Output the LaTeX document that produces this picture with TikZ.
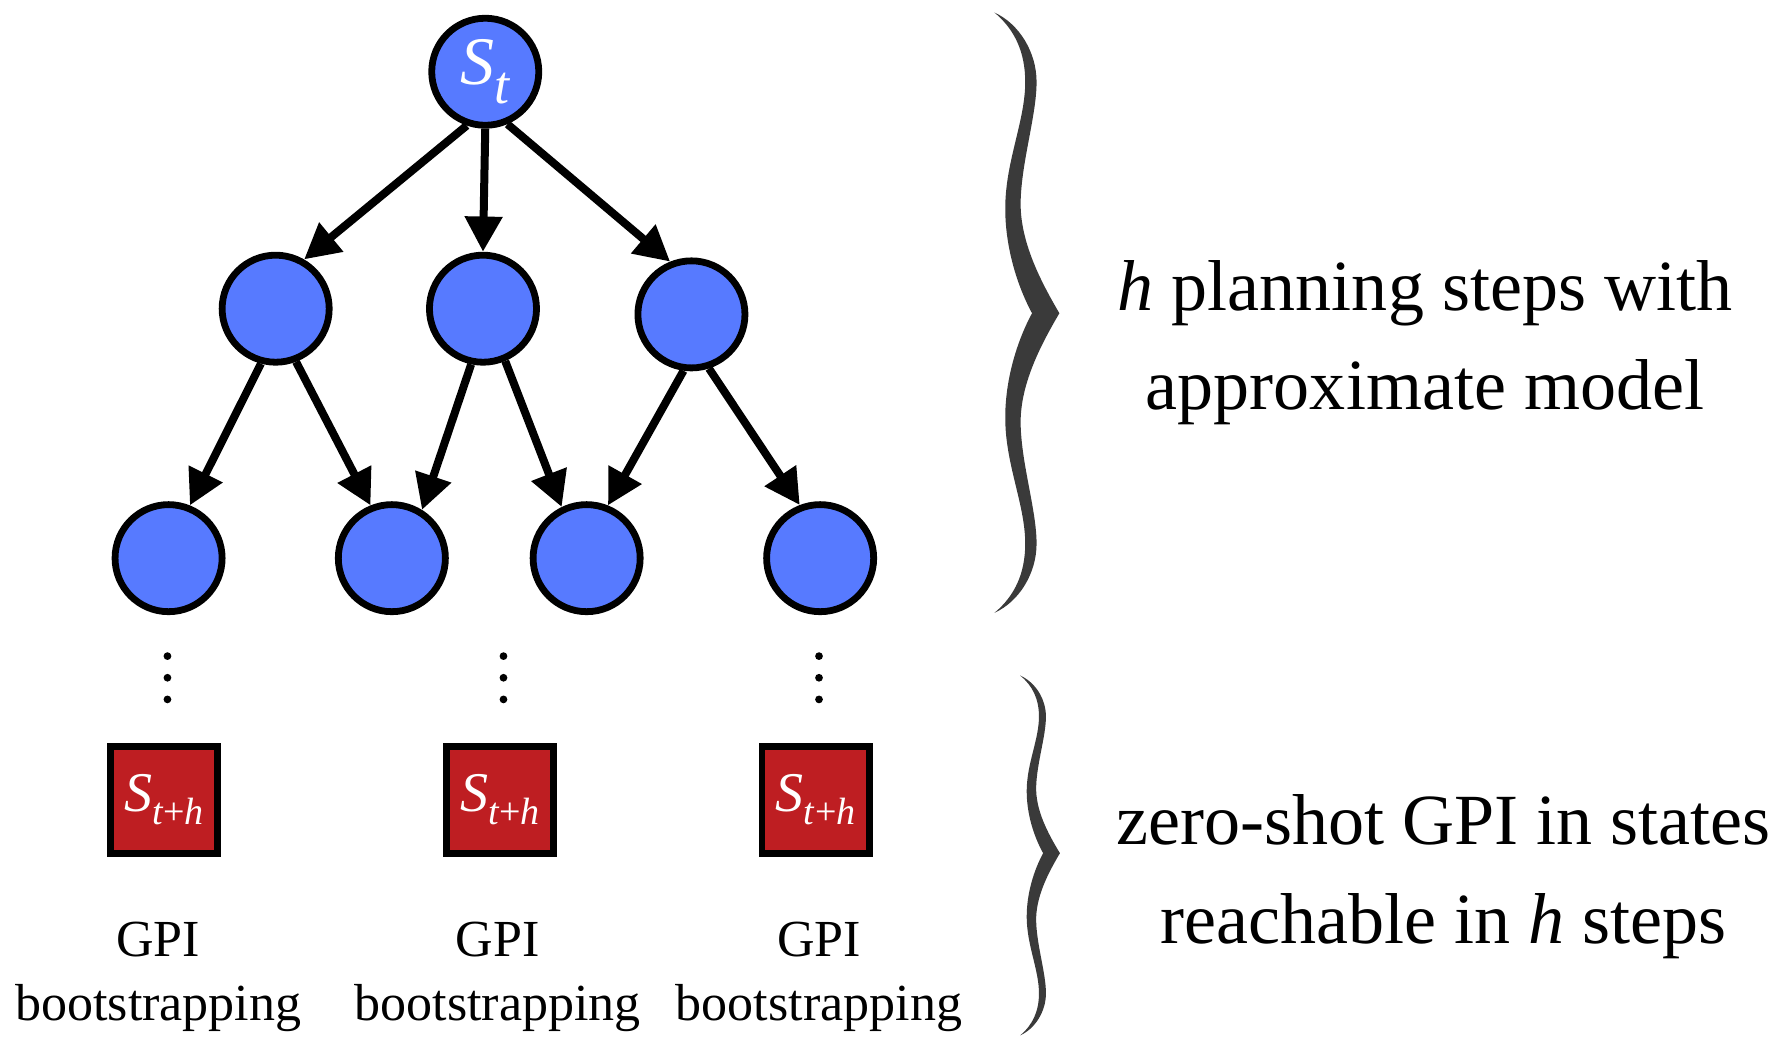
\documentclass[tikz,border=0pt]{standalone}
\usepackage{fontspec}
\setmainfont{Liberation Serif}
\usetikzlibrary{arrows.meta,positioning}
\definecolor{stblue}{RGB}{87,122,255}
\definecolor{lfred}{RGB}{190,30,34}
\definecolor{brgray}{RGB}{58,58,58}
\tikzset{sv/.style={draw,fill=stblue,circle,line width=3.4pt,minimum size=1.88cm,inner sep=0pt,text=white},lv/.style={draw,fill=lfred,rectangle,line width=3.4pt,minimum size=1.88cm,inner sep=0pt,text=white},arr/.style={line width=4pt,-{Triangle[length=17.6pt,width=18pt]}},txt/.style={align=center,inner sep=0pt}}
\newcommand{\stlab}{{\fontsize{34}{34}\selectfont\textit{S}}\raisebox{-9.6pt}{\fontsize{27}{27}\selectfont\textit{t}}}
\newcommand{\sthlab}{{\fontsize{28}{28}\selectfont\textit{S}}\raisebox{-6.3pt}{\fontsize{19}{19}\selectfont\textit{t}+\textit{h}}}
\newcommand{\halfbrace}{\fill[brgray] (0,0) .. controls (0.386,0.038) and (0.649,0.133) .. (0.649,0.231) .. controls (0.649,0.341) and (0.421,0.492) .. (0.404,0.625) .. controls (0.386,0.758) and (0.702,0.89) .. (1,1) -- (0.579,1) .. controls (0.351,0.909) and (0.158,0.777) .. (0.167,0.644) .. controls (0.175,0.492) and (0.474,0.36) .. (0.474,0.231) .. controls (0.474,0.133) and (0.316,0.057) .. (0,0) -- cycle;}

\begin{document}
\begin{tikzpicture}[x=0.02cm,y=-0.02cm]
	\useasboundingbox (0,0) rectangle (1560,915.6);
	% planning tree
	\node[sv] (s) at (426,63) {\stlab};
	\node[sv] (m1) at (242,271) {};
	\node[sv] (m2) at (424,271) {};
	\node[sv] (m3) at (607,276) {};
	\foreach \x[count=\i] in {148,344,515,720}
		\node[sv] (b\i) at (\x,490) {};
	\draw[arr] (s.251) -- (m1.60);
	\draw[arr] (s.south) -- (m2.north);
	\draw[arr] (s.293) -- (m3.112);
	\draw[arr] (m1.255) -- (b1.68);
	\draw[arr] (m1.291) -- (b2.112);
	\draw[arr] (m2.258) -- (b2.58);
	\draw[arr] (m2.293) -- (b3.116);
	\draw[arr] (m3.262) -- (b3.68);
	\draw[arr] (m3.288) -- (b4.111);
	% leaves after h steps
	\foreach \x[count=\i] in {145,440,717}{
		\foreach \y in {576,595,614}
			\fill (\x+2,\y) circle (3.4);
		\node[lv] (l\i) at (\x-1,702) {\sthlab};
	}
	\foreach \x[count=\i] in {139,437,719}
		\node[txt,font=\fontsize{26}{32}\selectfont] (g\i) at (\x,858) {GPI\\bootstrapping};
	% braces
	\begin{scope}[shift={(873,11)},xscale=57,yscale=264] \halfbrace \end{scope}
	\begin{scope}[shift={(873,538)},xscale=57,yscale=-263] \halfbrace \end{scope}
	\begin{scope}[shift={(895.5,593)},xscale=35,yscale=156] \halfbrace \end{scope}
	\begin{scope}[shift={(895.5,909)},xscale=35,yscale=-160] \halfbrace \end{scope}
	\node[txt,font=\fontsize{36}{49.5}\selectfont] (plan) at (1251,301) {\textit{h} planning steps with\\approximate model};
	\node[txt,font=\fontsize{36}{49.5}\selectfont] (zero) at (1267,770) {zero-shot GPI in states\\reachable in \textit{h} steps};
\end{tikzpicture}
\end{document}
